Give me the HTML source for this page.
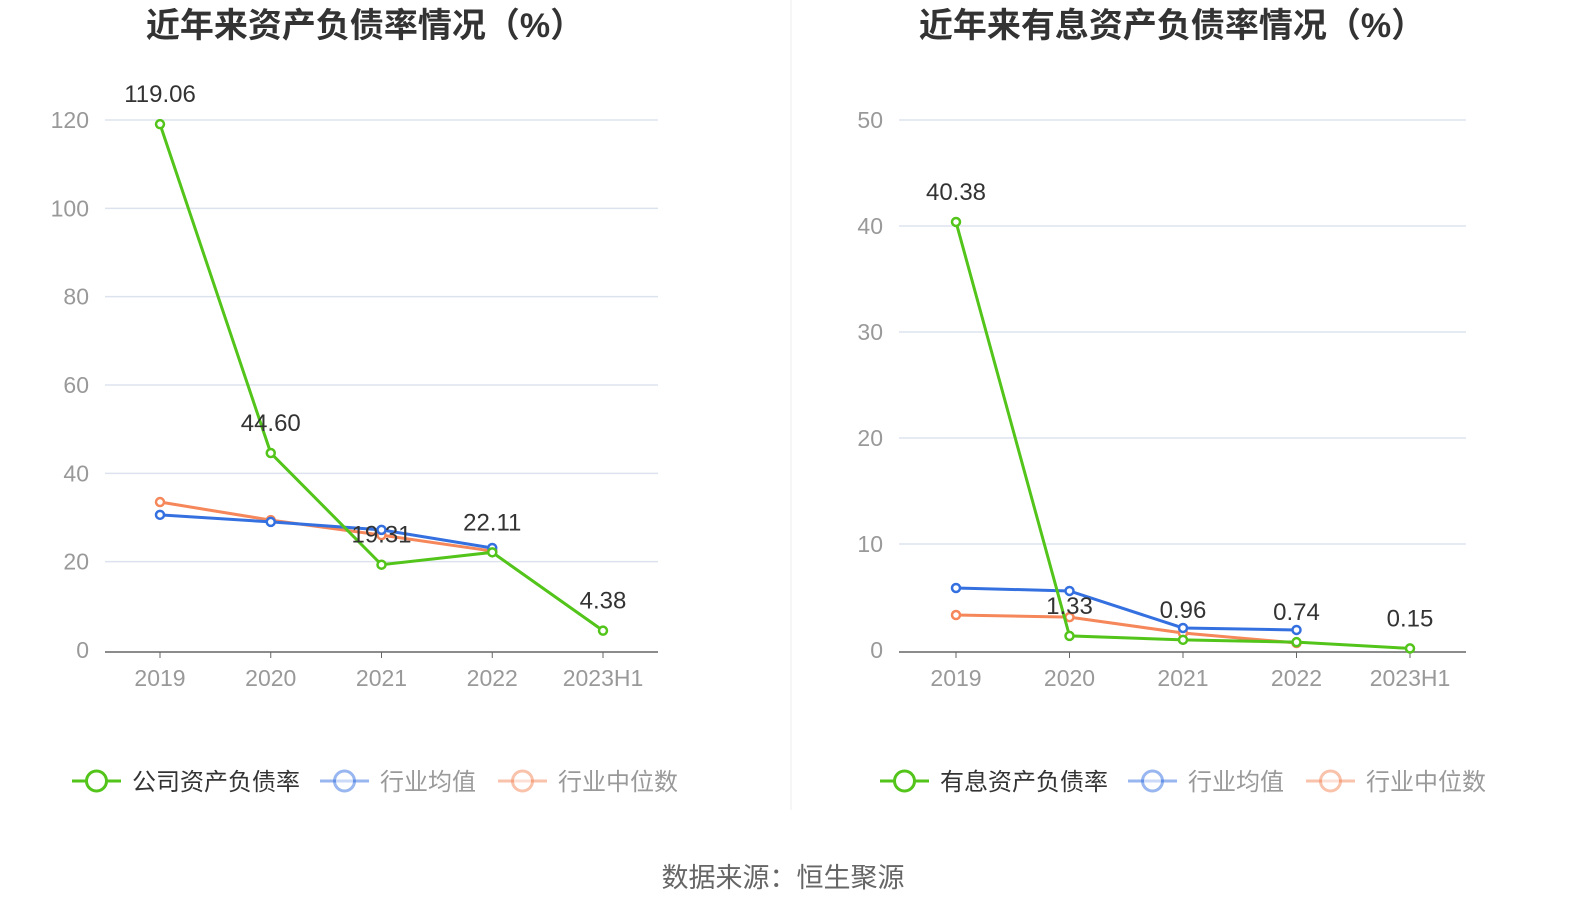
<!DOCTYPE html>
<html><head><meta charset="utf-8"><style>
body{margin:0;background:#fff;width:1574px;height:918px;overflow:hidden;font-family:"Liberation Sans","Noto Sans CJK SC",sans-serif}
svg text{font-family:"Liberation Sans","Noto Sans CJK SC",sans-serif}
</style></head><body>
<svg id="s" width="1574" height="918">
<line x1="791" y1="0" x2="791" y2="810" stroke="#eee" stroke-width="1"/>
<text x="783" y="887" font-size="27" fill="#666" text-anchor="middle">数据来源：恒生聚源</text>
</svg>
<script>
const categories=["2019","2020","2021","2022","2023H1"];
const leftCompany=[119.06,44.60,19.31,22.11,4.38];
const leftMean=[30.6,29.0,27.2,23.1];
const leftMedian=[33.5,29.4,26.0,22.4];
const leftTicks=[0,20,40,60,80,100,120];
const rightCompany=[40.38,1.33,0.96,0.74,0.15];
const rightMean=[5.85,5.57,2.08,1.89];
const rightMedian=[3.3,3.1,1.6,0.66];
const rightTicks=[0,10,20,30,40,50];
const NS="http://www.w3.org/2000/svg";
const svg=document.getElementById('s');
function mk(tag,attrs,parent){const e=document.createElementNS(NS,tag);for(const k in attrs)e.setAttribute(k,attrs[k]);(parent||svg).appendChild(e);return e;}
function chart(cfg){
  const g=mk('g',{});
  
  
  const ymax=cfg.ticks[cfg.ticks.length-1];
  const y=v=>650-v/ymax*530;
  const x=i=>cfg.x0+i*cfg.dx;
  const t=mk('text',{x:cfg.tx,y:37,'font-size':34,'font-weight':'bold',fill:'#333','text-anchor':'middle'},g);
  t.textContent=cfg.title;
  
  
  cfg.ticks.forEach(v=>{
    if(v>0){const l=mk('line',{x1:cfg.ax0,x2:cfg.ax1,y1:y(v),y2:y(v),stroke:'#dde3ee','stroke-width':1.5},g);
    
    }
    const tl=mk('text',{x:cfg.ax0-16,y:y(v)+8,'font-size':23,fill:'#999','text-anchor':'end'},g);
    tl.textContent=v;
    
    
  });
  const ax=mk('line',{x1:cfg.ax0,x2:cfg.ax1,y1:652,y2:652,stroke:'#666','stroke-width':1.5},g);
  
  
  categories.forEach((c,i)=>{
    mk('line',{x1:x(i),x2:x(i),y1:652,y2:658,stroke:'#666'},g);
    const tl=mk('text',{x:x(i),y:686,'font-size':23,fill:'#999','text-anchor':'middle'},g);
    tl.textContent=c;
    
    
  });
  const series=[[cfg.median,'#f5875a','median-line'],[cfg.mean,'#3470e0','mean-line'],[cfg.company,'#52c41a','company-line']];
  series.forEach(([d,c,n])=>{
    const p=mk('polyline',{points:d.map((v,i)=>x(i)+','+y(v)).join(' '),fill:'none',stroke:c,'stroke-width':3},g);
    
    
    d.forEach((v,i)=>{
      const m=mk('circle',{cx:x(i),cy:y(v),r:4,fill:'#fff',stroke:c,'stroke-width':2.5},g);
      
      
    });
  });
  cfg.company.forEach((v,i)=>{
    const l=mk('text',{x:x(i),y:y(v)-22,'font-size':24,fill:'#333','text-anchor':'middle'},g);
    l.textContent=v.toFixed(2);
    
    
  });
  const leg=[[cfg.lx[0],'#52c41a',cfg.legName,'#333',1],[cfg.lx[1],'#3470e0','行业均值','#999',0.5],[cfg.lx[2],'#f5875a','行业中位数','#999',0.5]];
  leg.forEach(([lx,c,name,tc,op])=>{
    const lg=mk('g',{opacity:1},g);
    
    
    mk('line',{x1:lx,x2:lx+49,y1:781,y2:781,stroke:c,'stroke-width':3,opacity:op},lg);
    mk('circle',{cx:lx+24.5,cy:781,r:10,fill:'#fff',stroke:c,'stroke-width':3,opacity:op},lg);
    const tt=mk('text',{x:lx+60,y:790,'font-size':24,fill:tc},lg);
    tt.textContent=name;
  });
}
chart({name:'left-chart',title:'近年来资产负债率情况（%）',tx:365,x0:160,dx:110.75,ax0:105,ax1:658,ticks:leftTicks,company:leftCompany,mean:leftMean,median:leftMedian,lx:[72,320,498],legName:'公司资产负债率'});
chart({name:'right-chart',title:'近年来有息资产负债率情况（%）',tx:1172,x0:956,dx:113.5,ax0:899,ax1:1466,ticks:rightTicks,company:rightCompany,mean:rightMean,median:rightMedian,lx:[880,1128,1306],legName:'有息资产负债率'});
</script>
</body></html>
